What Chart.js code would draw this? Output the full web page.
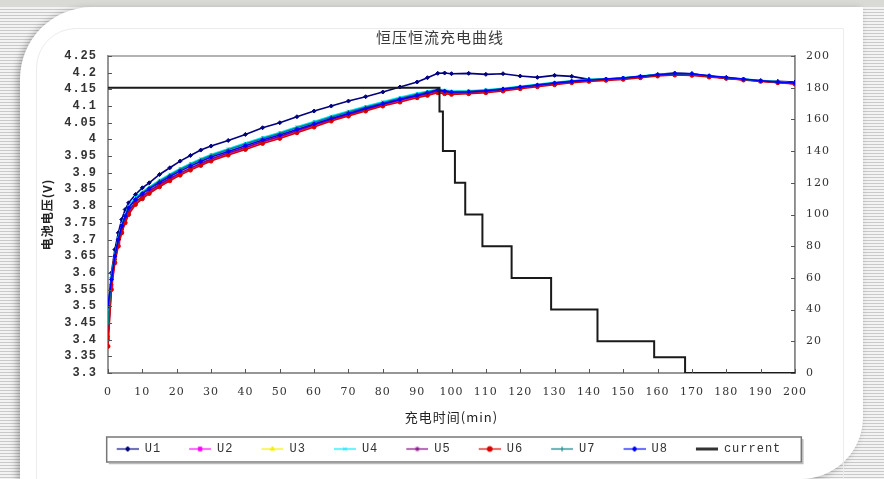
<!DOCTYPE html>
<html>
<head>
<meta charset="utf-8">
<script src="https://cdn.jsdelivr.net/npm/chart.js@4.4.1/dist/chart.umd.min.js"></script>
<style>
  html, body { margin: 0; padding: 0; }
  body {
    width: 884px; height: 479px; overflow: hidden; position: relative;
    background: repeating-linear-gradient(to bottom, #c9c9c9 0 1px, #f3f3f3 1px 3px);
  }
  #topband { position: absolute; left: 0; top: 0; width: 884px; height: 7px; background: #d9d9d6; }
  #card {
    position: absolute; left: 20px; top: 7px; width: 843px; height: 472px;
    background: #fff; border-top-left-radius: 72px; border-bottom-right-radius: 62px;
    box-shadow: -3px 2px 7px rgba(0,0,0,0.28);
  }
  #inner {
    position: absolute; left: 36px; top: 28px; width: 806px; height: 470px;
    border: 1px solid #ececec; border-top-left-radius: 40px;
  }
  canvas { position: absolute; left: 0; top: 0; }
</style>
</head>
<body>
<div id="topband"></div>
<div id="card"></div>
<div id="inner"></div>
<canvas id="myChart" width="884" height="479"></canvas>
<script>
// charging time (min)
const times = [0, 1, 2, 3, 4, 5, 6, 8, 10, 12, 15, 18, 21, 24, 27, 30, 35, 40, 45, 50, 55, 60, 65, 70, 75, 80, 85, 90, 93, 96, 98,
  100, 105, 110, 115, 120, 125, 130, 135, 140, 145, 150, 155, 160, 165, 170, 175, 180, 185, 190, 195, 200];

// cell voltages (V)
const u1 = [3.48, 3.60, 3.67, 3.72, 3.76, 3.79, 3.81, 3.835, 3.855, 3.87, 3.895, 3.915, 3.935, 3.952, 3.968, 3.98, 3.997, 4.015, 4.035, 4.05, 4.068, 4.085, 4.10, 4.115, 4.128, 4.142, 4.157, 4.172, 4.185, 4.198, 4.199,
  4.197, 4.198, 4.195, 4.197, 4.19, 4.186, 4.192, 4.189, 4.18, 4.179, 4.182, 4.188, 4.195, 4.199, 4.197, 4.19, 4.183, 4.179, 4.176, 4.174, 4.172];
const u2 = [3.40, 3.56, 3.635, 3.685, 3.725, 3.755, 3.78, 3.808, 3.826, 3.842, 3.862, 3.88, 3.897, 3.912, 3.926, 3.939, 3.957, 3.974, 3.992, 4.007, 4.024, 4.041, 4.058, 4.073, 4.088, 4.103, 4.116, 4.128, 4.135, 4.143, 4.14,
  4.138, 4.14, 4.143, 4.148, 4.155, 4.161, 4.167, 4.172, 4.176, 4.179, 4.182, 4.187, 4.192, 4.195, 4.194, 4.189, 4.184, 4.179, 4.175, 4.171, 4.167];
const u3 = [3.44, 3.57, 3.64, 3.69, 3.73, 3.76, 3.785, 3.812, 3.83, 3.846, 3.866, 3.884, 3.90, 3.915, 3.929, 3.942, 3.96, 3.977, 3.995, 4.01, 4.027, 4.044, 4.061, 4.076, 4.091, 4.106, 4.119, 4.131, 4.138, 4.146, 4.143,
  4.14, 4.142, 4.145, 4.15, 4.157, 4.163, 4.169, 4.174, 4.178, 4.181, 4.184, 4.189, 4.194, 4.198, 4.196, 4.19, 4.185, 4.18, 4.176, 4.172, 4.168];
const u4 = [3.46, 3.59, 3.655, 3.705, 3.745, 3.775, 3.80, 3.826, 3.843, 3.858, 3.878, 3.896, 3.913, 3.928, 3.942, 3.955, 3.972, 3.989, 4.006, 4.021, 4.038, 4.054, 4.07, 4.085, 4.099, 4.113, 4.126, 4.138, 4.144, 4.151, 4.148,
  4.145, 4.146, 4.149, 4.153, 4.159, 4.165, 4.171, 4.176, 4.18, 4.182, 4.185, 4.19, 4.195, 4.197, 4.196, 4.19, 4.185, 4.181, 4.177, 4.173, 4.169];
const u5 = [3.41, 3.565, 3.64, 3.69, 3.73, 3.76, 3.785, 3.812, 3.829, 3.845, 3.865, 3.883, 3.899, 3.914, 3.928, 3.941, 3.959, 3.976, 3.994, 4.009, 4.026, 4.043, 4.06, 4.075, 4.09, 4.105, 4.118, 4.13, 4.137, 4.145, 4.142,
  4.139, 4.141, 4.144, 4.149, 4.156, 4.162, 4.168, 4.173, 4.177, 4.18, 4.183, 4.188, 4.193, 4.196, 4.195, 4.189, 4.184, 4.179, 4.175, 4.171, 4.167];
const u6 = [3.38, 3.55, 3.63, 3.68, 3.72, 3.75, 3.775, 3.805, 3.822, 3.838, 3.858, 3.876, 3.893, 3.908, 3.922, 3.935, 3.953, 3.97, 3.988, 4.003, 4.02, 4.037, 4.055, 4.07, 4.085, 4.10, 4.112, 4.125, 4.132, 4.14, 4.137,
  4.135, 4.137, 4.14, 4.145, 4.152, 4.158, 4.164, 4.17, 4.174, 4.177, 4.18, 4.185, 4.19, 4.193, 4.192, 4.187, 4.183, 4.178, 4.174, 4.17, 4.166];
const u7 = [3.45, 3.585, 3.65, 3.70, 3.74, 3.77, 3.795, 3.822, 3.84, 3.855, 3.875, 3.893, 3.91, 3.925, 3.939, 3.952, 3.969, 3.986, 4.003, 4.018, 4.035, 4.051, 4.067, 4.082, 4.096, 4.11, 4.123, 4.135, 4.142, 4.149, 4.146,
  4.143, 4.144, 4.147, 4.152, 4.158, 4.164, 4.17, 4.175, 4.179, 4.181, 4.184, 4.189, 4.194, 4.197, 4.196, 4.19, 4.185, 4.18, 4.176, 4.172, 4.168];
const u8 = [3.50, 3.58, 3.65, 3.70, 3.74, 3.77, 3.795, 3.82, 3.837, 3.852, 3.871, 3.889, 3.905, 3.92, 3.934, 3.947, 3.964, 3.981, 3.998, 4.013, 4.03, 4.046, 4.063, 4.078, 4.093, 4.107, 4.12, 4.132, 4.14, 4.148, 4.145,
  4.142, 4.143, 4.146, 4.151, 4.157, 4.163, 4.169, 4.174, 4.178, 4.181, 4.184, 4.189, 4.194, 4.198, 4.197, 4.191, 4.186, 4.181, 4.176, 4.172, 4.169];

// charging current, value holds from each time until the next one
const currentTimes = [0, 96.5, 97.5, 101, 104, 109, 117.5, 129, 142.5, 159, 168, 200];
const currentValues = [180, 165, 140, 120, 100, 80, 60, 40, 20, 10, 0, 0];

const seriesNames = ['U1', 'U2', 'U3', 'U4', 'U5', 'U6', 'U7', 'U8'];
const seriesValues = [u1, u2, u3, u4, u5, u6, u7, u8];
const seriesColors = ['#000080', '#ff00ff', '#f0f000', '#00e8ff', '#800080', '#d80000', '#008080', '#0000ff'];
const seriesMarkers = ['rectRot', 'rect', 'triangle', 'crossRot', 'star', 'circle', 'cross', 'rectRot'];

const ICON_W = 40;   // legend picture width, line sits at its right end
const ICON_GAP = 18; // blank part on the left of the picture

// small line + marker picture for legend entries
function legendIcon(color, marker, width) {
  const c = document.createElement('canvas');
  c.width = ICON_W; c.height = 9;
  const g = c.getContext('2d');
  g.strokeStyle = color; g.fillStyle = color;
  g.lineWidth = width;
  g.beginPath(); g.moveTo(ICON_GAP, 4.5); g.lineTo(ICON_W, 4.5); g.stroke();
  if (marker) {
    g.lineWidth = 1;
    Chart.helpers.drawPoint(g, {pointStyle: marker, radius: 2.5, borderWidth: 1}, (ICON_GAP + ICON_W) / 2, 4.5);
  }
  return c;
}

const datasets = seriesNames.map((name, i) => ({
  label: name,
  data: times.map((t, k) => ({x: t, y: seriesValues[i][k]})),
  yAxisID: 'y',
  borderColor: seriesColors[i],
  backgroundColor: seriesColors[i],
  borderWidth: 1.6,
  pointStyle: seriesMarkers[i],
  pointRadius: 2,
  pointBorderWidth: 1,
  order: 9 - i,
  legendIcon: legendIcon(seriesColors[i], seriesMarkers[i], 1.2),
}));
datasets.push({
  label: 'current',
  data: currentTimes.map((t, k) => ({x: t, y: currentValues[k]})),
  yAxisID: 'y1',
  borderColor: '#1a1a1a',
  backgroundColor: '#1a1a1a',
  borderWidth: 2,
  stepped: true,
  pointRadius: 0,
  order: 0,
  legendIcon: legendIcon('#333', null, 3),
});

const frame = {
  id: 'frame',
  beforeUpdate(chart) { chart.ctx.letterSpacing = '1px'; },
  beforeDraw(chart) { chart.ctx.letterSpacing = '1px'; },
  beforeDatasetsDraw(chart) {
    const {ctx, chartArea: a} = chart;
    ctx.save();
    ctx.strokeStyle = '#9a9a9a';
    ctx.lineWidth = 1.5;
    ctx.strokeRect(a.left, a.top, a.width, a.height);
    ctx.restore();
  },
  afterDraw(chart) {
    const {ctx, chartArea: a, scales} = chart;
    ctx.save();
    ctx.strokeStyle = '#555';
    ctx.lineWidth = 1;
    // tick marks pointing into the plot
    scales.x.ticks.forEach((t) => {
      const px = Math.round(scales.x.getPixelForValue(t.value)) + 0.5;
      ctx.beginPath(); ctx.moveTo(px, a.bottom); ctx.lineTo(px, a.bottom - 4); ctx.stroke();
    });
    scales.y.ticks.forEach((t) => {
      const py = Math.round(scales.y.getPixelForValue(t.value)) + 0.5;
      ctx.beginPath(); ctx.moveTo(a.left, py); ctx.lineTo(a.left + 4, py); ctx.stroke();
    });
    scales.y1.ticks.forEach((t) => {
      const py = Math.round(scales.y1.getPixelForValue(t.value)) + 0.5;
      ctx.beginPath(); ctx.moveTo(a.right, py); ctx.lineTo(a.right - 4, py); ctx.stroke();
    });
    // legend box
    const boxes = chart.legend.legendHitBoxes;
    if (boxes && boxes.length) {
      const l = boxes[0].left + ICON_GAP - 10;
      const last = boxes[boxes.length - 1];
      const r = last.left + last.width + 20;
      const cy = boxes[0].top + boxes[0].height / 2;
      ctx.strokeStyle = '#777';
      ctx.lineWidth = 1.5;
      ctx.strokeRect(l, cy - 12, r - l, 25);
      ctx.strokeStyle = '#bbb';
      ctx.beginPath(); ctx.moveTo(l + 2, cy + 14.5); ctx.lineTo(r + 1.5, cy + 14.5); ctx.lineTo(r + 1.5, cy - 10); ctx.stroke();
    }
    ctx.restore();
  },
};

const ctx = document.getElementById('myChart').getContext('2d');
new Chart(ctx, {
  type: 'line',
  data: {datasets},
  options: {
    responsive: false,
    animation: false,
    layout: {padding: {left: 36, right: 40, top: 28, bottom: 14}},
    plugins: {
      title: {
        display: true,
        text: '恒压恒流充电曲线',
        color: '#3a3a3a',
        font: {family: "'Noto Sans CJK SC'", size: 15, weight: 'normal'},
        padding: {top: 0, bottom: 10},
      },
      legend: {
        position: 'bottom',
        labels: {
          usePointStyle: true,
          pointStyleWidth: ICON_W,
          padding: 10,
          color: '#333',
          font: {family: "'Liberation Mono'", size: 12},
          sort: (a, b) => a.datasetIndex - b.datasetIndex,
          generateLabels(chart) {
            return chart.data.datasets.map((ds, i) => ({
              text: ds.label,
              pointStyle: ds.legendIcon,
              fillStyle: ds.borderColor,
              strokeStyle: ds.borderColor,
              lineWidth: 0,
              fontColor: '#333',
              datasetIndex: i,
              hidden: false,
            }));
          },
        },
      },
      tooltip: {enabled: false},
    },
    scales: {
      x: {
        type: 'linear',
        min: 0, max: 200,
        grid: {display: false, drawTicks: false},
        border: {display: true, color: '#8a8a8a', width: 2},
        ticks: {stepSize: 10, padding: 13, color: '#333', maxRotation: 0, autoSkip: false,
          font: {family: "'DejaVu Serif'", size: 11}},
        title: {display: true, text: '充电时间(min)', color: '#222',
          font: {family: "'Noto Sans CJK SC'", size: 13}, padding: {top: 0, bottom: 8}},
        afterFit: (scale) => { scale.height = 60; },
      },
      y: {
        position: 'left',
        min: 3.3, max: 4.25,
        grid: {display: false, drawTicks: false},
        border: {display: true, color: '#8a8a8a', width: 2},
        ticks: {stepSize: 0.05, padding: 11, color: '#333', autoSkip: false,
          font: {family: "'Liberation Mono'", size: 12, weight: 'bold'},
          callback: (v) => String(+v.toFixed(2))},
        title: {display: true, text: '电池电压(V)', color: '#222',
          font: {family: "'Noto Sans CJK SC'", size: 12, weight: 'bold'}, padding: {top: 4, bottom: 0}},
        afterFit: (scale) => { scale.width = 72; },
      },
      y1: {
        position: 'right',
        min: 0, max: 200,
        grid: {display: false, drawTicks: false},
        border: {display: true, color: '#555', width: 1.5},
        ticks: {stepSize: 20, padding: 11, color: '#333', autoSkip: false,
          font: {family: "'DejaVu Serif'", size: 11}},
        afterFit: (scale) => { scale.width = 49; },
      },
    },
  },
  plugins: [frame],
});
</script>
</body>
</html>
